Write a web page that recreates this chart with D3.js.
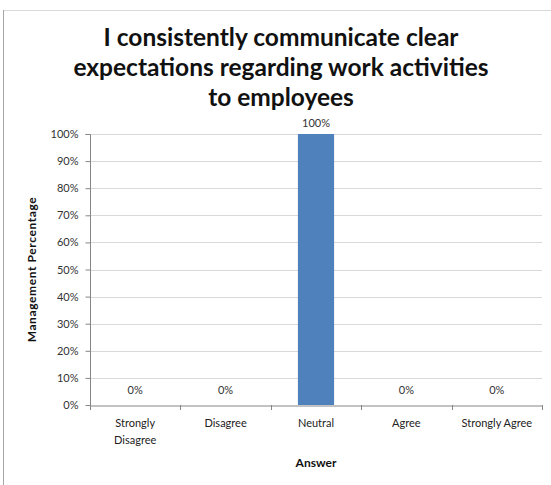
<!DOCTYPE html>
<html>
<head>
<meta charset="utf-8">
<script src="https://cdn.jsdelivr.net/npm/d3@7"></script>
<style>
  body { margin: 0; background: #fff; }
  text { font-family: Lato, "Open Sans", sans-serif; }
</style>
</head>
<body>
<svg id="chart"></svg>
<script>
const categories = ['Strongly Disagree', 'Disagree', 'Neutral', 'Agree', 'Strongly Agree'];
const values = [0, 0, 100, 0, 0];
const yTicks = [0, 10, 20, 30, 40, 50, 60, 70, 80, 90, 100];
const titleLines = ['I consistently communicate clear', 'expectations regarding work activities', 'to employees'];

const width = 551;
const height = 485;
const margin = { top: 134, right: 9, bottom: 80, left: 90 };

const svg = d3.select('#chart').attr('width', width).attr('height', height);

// outer frame (top and left edges visible)
svg.append('path')
  .attr('d', `M3.5,${height} V10.5 H${width}`)
  .attr('fill', 'none')
  .attr('stroke', '#d9d9d9');
svg.append('line')
  .attr('x1', 3.5).attr('x2', 3.5).attr('y1', 10).attr('y2', height)
  .attr('stroke', '#a6a6a6');

const chartWidth = width - margin.left - margin.right;
const chartHeight = height - margin.top - margin.bottom;

const g = svg.append('g')
  .attr('transform', `translate(${margin.left},${margin.top})`);

const x = d3.scaleBand().domain(categories).range([0, chartWidth]).paddingInner(0.6).paddingOuter(0.3);
const xOuter = d3.scaleBand().domain(categories).range([0, chartWidth]);
const y = d3.scaleLinear().domain([0, 100]).range([chartHeight, 0]);

// gridlines
g.selectAll('.grid')
  .data(yTicks.filter(d => d > 0))
  .join('line')
  .attr('x1', 0).attr('x2', chartWidth)
  .attr('y1', d => Math.round(y(d)) + 0.5).attr('y2', d => Math.round(y(d)) + 0.5)
  .attr('stroke', '#d9d9d9');

// y axis
const yAxis = g.append('g')
  .attr('transform', 'translate(0.5,0)')
  .call(d3.axisLeft(y).tickValues(yTicks).tickFormat(d => d + '%').tickSize(5).tickPadding(7));
yAxis.select('.domain').attr('stroke', '#868686').attr('d', `M-5,0.5H0V${chartHeight}`);
yAxis.selectAll('.tick line').attr('stroke', '#868686');
yAxis.selectAll('.tick text').style('font-size', '11px').attr('fill', '#333');

// bars
g.selectAll('.bar')
  .data(values)
  .join('rect')
  .attr('x', (d, i) => x(categories[i]))
  .attr('y', d => y(d))
  .attr('width', x.bandwidth())
  .attr('height', d => chartHeight - y(d))
  .attr('fill', '#4f81bd');

// x axis
const xAxis = g.append('g')
  .attr('transform', `translate(0,${chartHeight + 0.5})`)
  .call(d3.axisBottom(xOuter).tickSize(0).tickFormat(''));
xAxis.select('.domain').attr('stroke', '#868686');
g.selectAll('.xtick')
  .data(d3.range(categories.length + 1))
  .join('line')
  .attr('x1', i => Math.round(i * xOuter.step()) + 0.5)
  .attr('x2', i => Math.round(i * xOuter.step()) + 0.5)
  .attr('y1', chartHeight).attr('y2', chartHeight + 5)
  .attr('stroke', '#868686');

// category labels
const labelLines = { 'Strongly Disagree': ['Strongly', 'Disagree'] };
categories.forEach(c => {
  const lines = labelLines[c] || [c];
  const t = g.append('text')
    .attr('x', xOuter(c) + xOuter.bandwidth() / 2)
    .attr('y', chartHeight + 22)
    .attr('text-anchor', 'middle')
    .style('font-size', '11px')
    .attr('fill', '#222');
  lines.forEach((l, i) => t.append('tspan')
    .attr('x', xOuter(c) + xOuter.bandwidth() / 2)
    .attr('dy', i === 0 ? 0 : 17)
    .text(l));
});

// value labels
g.selectAll('.val')
  .data(values)
  .join('text')
  .attr('x', (d, i) => xOuter(categories[i]) + xOuter.bandwidth() / 2)
  .attr('y', d => d > 0 ? y(d) - 7 : chartHeight - 11)
  .attr('text-anchor', 'middle')
  .style('font-size', '11px')
  .attr('fill', '#333')
  .text(d => d + '%');

// title
svg.append('text')
  .attr('text-anchor', 'middle')
  .style('font-size', '24.5px')
  .style('font-weight', 'bold')
  .attr('fill', '#111')
  .selectAll('tspan')
  .data(titleLines)
  .join('tspan')
  .attr('x', 281)
  .attr('y', (d, i) => 46 + i * 30)
  .text(d => d);

// axis titles
svg.append('text')
  .attr('transform', `translate(36,${margin.top + chartHeight / 2}) rotate(-90)`)
  .attr('text-anchor', 'middle')
  .style('font-size', '12px')
  .style('font-weight', 'bold')
  .style('letter-spacing', '0.6px')
  .attr('fill', '#111')
  .text('Management Percentage');

svg.append('text')
  .attr('x', margin.left + chartWidth / 2)
  .attr('y', 467)
  .attr('text-anchor', 'middle')
  .style('font-size', '12px')
  .style('font-weight', 'bold')
  .attr('fill', '#111')
  .text('Answer');
</script>
</body>
</html>
